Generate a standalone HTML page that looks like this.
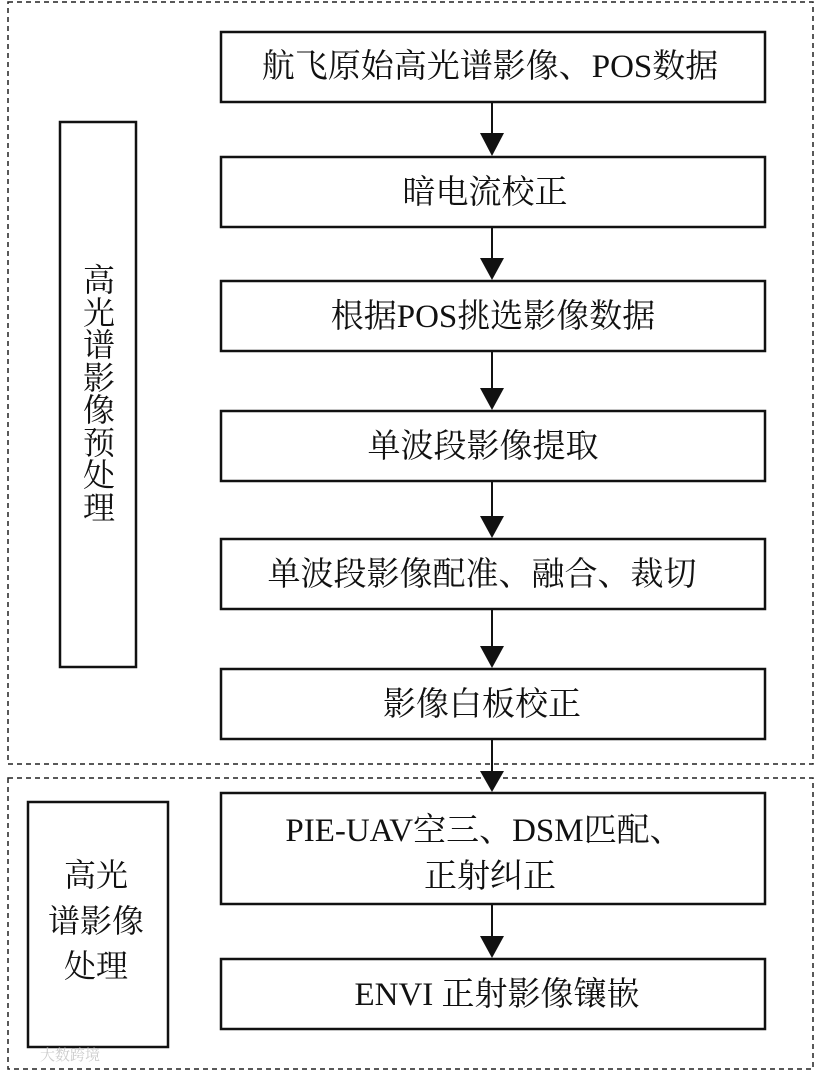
<!DOCTYPE html>
<html><head><meta charset="utf-8"><style>
html,body{margin:0;padding:0;background:#fff;}
svg text{font-family:"Liberation Serif","Noto Serif CJK SC",serif;fill:#111;}
</style></head><body>
<svg width="816" height="1072" viewBox="0 0 816 1072" xmlns="http://www.w3.org/2000/svg">
<g fill="none" stroke="#222" stroke-width="1.5" stroke-dasharray="5,4">
<rect x="8" y="2" width="805" height="762"/>
<rect x="8" y="778" width="805" height="291"/>
</g>
<g fill="#fff" stroke="#111" stroke-width="2.5">
<rect x="60" y="122" width="76" height="545"/>
<rect x="28" y="802" width="140" height="245"/>
<rect x="221" y="32" width="544" height="70"/>
<rect x="221" y="157" width="544" height="70"/>
<rect x="221" y="281" width="544" height="70"/>
<rect x="221" y="411" width="544" height="70"/>
<rect x="221" y="539" width="544" height="70"/>
<rect x="221" y="669" width="544" height="70"/>
<rect x="221" y="793" width="544" height="111"/>
<rect x="221" y="959" width="544" height="70"/>
</g>
<g stroke="#111" stroke-width="2">
<line x1="492" y1="102" x2="492" y2="140"/>
<line x1="492" y1="227" x2="492" y2="264"/>
<line x1="492" y1="351" x2="492" y2="394"/>
<line x1="492" y1="481" x2="492" y2="522"/>
<line x1="492" y1="609" x2="492" y2="652"/>
<line x1="492" y1="739" x2="492" y2="776"/>
<line x1="492" y1="904" x2="492" y2="942"/>
</g>
<g fill="#111">
<polygon points="480,133 504,133 492,156"/>
<polygon points="480,258 504,258 492,280"/>
<polygon points="480,388 504,388 492,410"/>
<polygon points="480,516 504,516 492,538"/>
<polygon points="480,646 504,646 492,668"/>
<polygon points="480,771 504,771 492,792"/>
<polygon points="480,936 504,936 492,958"/>
</g>
<g font-size="33" text-anchor="middle">
<text x="490" y="77">航飞原始高光谱影像、POS数据</text>
<text x="485" y="203">暗电流校正</text>
<text x="493" y="327">根据POS挑选影像数据</text>
<text x="483" y="457">单波段影像提取</text>
<text x="482" y="585">单波段影像配准、融合、裁切</text>
<text x="482" y="715">影像白板校正</text>
<text x="484" y="841">PIE-UAV空三、DSM匹配、</text>
<text x="490" y="887">正射纠正</text>
<text x="497" y="1005">ENVI 正射影像镶嵌</text>
</g>
<g font-size="32" text-anchor="middle">
<text x="99" y="291">高</text>
<text x="99" y="324">光</text>
<text x="99" y="356">谱</text>
<text x="99" y="389">影</text>
<text x="99" y="421">像</text>
<text x="99" y="454">预</text>
<text x="99" y="486">处</text>
<text x="99" y="519">理</text>
<text x="96" y="886">高光</text>
<text x="96" y="932">谱影像</text>
<text x="96" y="977">处理</text>
</g>
<text x="40" y="1060" font-size="15" fill="#ccc" style="fill:#ccc">大数跨境</text>
</svg>
</body></html>
